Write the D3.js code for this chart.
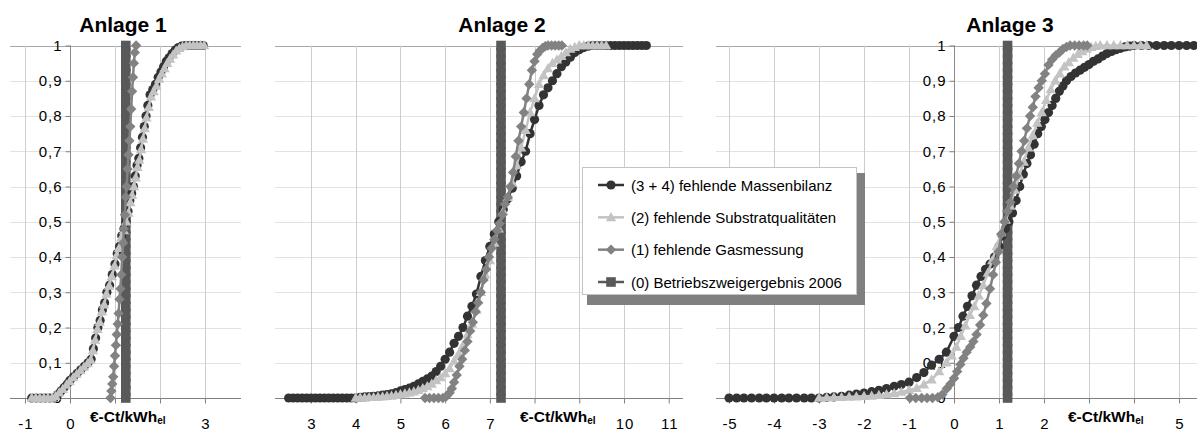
<!DOCTYPE html>
<html><head><meta charset="utf-8">
<script src="https://cdn.jsdelivr.net/npm/d3@7"></script>
<style>body{margin:0;background:#fff}svg{display:block;font-family:"Liberation Sans",Arial,Helvetica,sans-serif}</style>
</head><body><svg id="c" width="1197" height="430"></svg>
<script>
// ---------------- DATA ----------------
const panelTitles = ["Anlage 1", "Anlage 2", "Anlage 3"];
const seriesNames = ["(3 + 4) fehlende Massenbilanz", "(2) fehlende Substratqualitäten", "(1) fehlende Gasmessung", "(0) Betriebszweigergebnis 2006"];
const axisTitle = "€-Ct/kWh";
const axisTitleSub = "el";
const yTickValues = [0, 0.1, 0.2, 0.3, 0.4, 0.5, 0.6, 0.7, 0.8, 0.9, 1];
const yTickLabels = ["0", "0,1", "0,2", "0,3", "0,4", "0,5", "0,6", "0,7", "0,8", "0,9", "1"];
const xTicks1 = [-1, 0, 1, 2, 3];
const xTickLabels1 = ["-1", "0", "", "", "3"];          // 1 and 2 hidden under the axis title
const xTicks2 = [3, 4, 5, 6, 7, 8, 9, 10, 11];
const xTickLabels2 = ["3", "4", "5", "6", "7", "", "", "10", "11"];
const xTicks3 = [-5, -4, -3, -2, -1, 0, 1, 2, 3, 4, 5];
const xTickLabels3 = ["-5", "-4", "-3", "-2", "-1", "0", "1", "2", "", "", "5"];

// (0) Betriebszweigergebnis 2006: one value per plant, drawn at these cumulative levels
const betrieb1 = 1.24, betrieb2 = 7.25, betrieb3 = 1.19;
const betriebLevels = [0, 0.02, 0.04, 0.06, 0.08, 0.1, 0.12, 0.14, 0.16, 0.18, 0.2, 0.22, 0.24, 0.26, 0.28, 0.3, 0.32, 0.34, 0.36, 0.38, 0.4, 0.42, 0.44, 0.46, 0.48, 0.5, 0.52, 0.54, 0.56, 0.58, 0.6, 0.62, 0.64, 0.66, 0.68, 0.7, 0.72, 0.74, 0.76, 0.78, 0.8, 0.82, 0.84, 0.86, 0.88, 0.9, 0.92, 0.94, 0.96, 0.98, 1];

// Anlage 1 cumulative distributions [x, p]
const massen1 = [[-0.85,0],[-0.75,0],[-0.65,0],[-0.55,0],[-0.45,0],[-0.35,0],[-0.27,0.01],[-0.2,0.02],[-0.13,0.03],[-0.06,0.04],[0.0,0.05],[0.08,0.06],[0.16,0.07],[0.24,0.08],[0.32,0.09],[0.4,0.1],[0.47,0.11],[0.52,0.14],[0.57,0.17],[0.62,0.2],[0.67,0.22],[0.72,0.25],[0.77,0.27],[0.82,0.3],[0.88,0.32],[0.94,0.35],[1.0,0.38],[1.05,0.41],[1.1,0.43],[1.15,0.46],[1.2,0.48],[1.25,0.5],[1.29,0.53],[1.33,0.56],[1.37,0.58],[1.41,0.6],[1.45,0.63],[1.49,0.66],[1.53,0.68],[1.57,0.71],[1.61,0.74],[1.65,0.77],[1.69,0.8],[1.73,0.83],[1.78,0.86],[1.84,0.875],[1.9,0.89],[1.96,0.91],[2.02,0.925],[2.08,0.94],[2.14,0.955],[2.2,0.965],[2.27,0.977],[2.34,0.987],[2.41,0.994],[2.48,0.998],[2.56,1],[2.64,1],[2.72,1],[2.8,1],[2.88,1],[2.96,1]];
const substrat1 = [[-0.85,0],[-0.76,0],[-0.67,0],[-0.58,0],[-0.49,0],[-0.4,0],[-0.32,0.005],[-0.24,0.015],[-0.16,0.025],[-0.08,0.037],[-0.01,0.047],[0.07,0.058],[0.15,0.068],[0.23,0.078],[0.31,0.088],[0.39,0.098],[0.46,0.108],[0.51,0.135],[0.56,0.165],[0.61,0.195],[0.66,0.215],[0.71,0.245],[0.76,0.265],[0.81,0.295],[0.87,0.318],[0.93,0.345],[0.99,0.375],[1.04,0.405],[1.09,0.425],[1.14,0.455],[1.2,0.475],[1.25,0.5],[1.3,0.525],[1.34,0.555],[1.38,0.575],[1.42,0.6],[1.46,0.625],[1.5,0.655],[1.54,0.675],[1.58,0.705],[1.62,0.735],[1.66,0.765],[1.7,0.795],[1.75,0.825],[1.8,0.855],[1.86,0.87],[1.92,0.885],[1.98,0.905],[2.04,0.92],[2.1,0.935],[2.16,0.95],[2.22,0.962],[2.29,0.974],[2.36,0.985],[2.43,0.992],[2.5,0.997],[2.58,1],[2.66,1],[2.74,1],[2.82,1],[2.9,1],[2.98,1]];
const gas1 = [[0.9,0],[0.92,0.02],[0.94,0.04],[0.96,0.06],[0.98,0.09],[1.0,0.12],[1.02,0.15],[1.04,0.18],[1.06,0.21],[1.08,0.24],[1.1,0.28],[1.12,0.31],[1.14,0.35],[1.16,0.4],[1.18,0.44],[1.2,0.48],[1.22,0.52],[1.24,0.57],[1.26,0.6],[1.28,0.65],[1.3,0.69],[1.32,0.73],[1.34,0.77],[1.36,0.82],[1.38,0.87],[1.4,0.91],[1.42,0.95],[1.44,0.98],[1.47,1.0]];

// Anlage 2
const massen2 = [[2.5,0],[2.6,0],[2.7,0],[2.8,0],[2.9,0],[3.0,0],[3.1,0],[3.2,0],[3.3,0],[3.4,0],[3.5,0],[3.6,0],[3.7,0],[3.8,0],[3.9,0],[4.0,0],[4.1,0.002],[4.2,0.003],[4.3,0.004],[4.4,0.005],[4.5,0.006],[4.6,0.008],[4.7,0.01],[4.8,0.012],[4.9,0.015],[5.0,0.02],[5.1,0.024],[5.2,0.028],[5.3,0.033],[5.4,0.04],[5.5,0.047],[5.6,0.054],[5.7,0.062],[5.8,0.075],[5.9,0.09],[6.0,0.11],[6.1,0.13],[6.2,0.155],[6.3,0.175],[6.4,0.2],[6.5,0.232],[6.6,0.26],[6.7,0.295],[6.8,0.345],[6.9,0.39],[7.0,0.43],[7.1,0.465],[7.2,0.5],[7.3,0.535],[7.4,0.565],[7.5,0.595],[7.6,0.63],[7.7,0.67],[7.8,0.7],[7.9,0.75],[8.0,0.79],[8.1,0.83],[8.2,0.86],[8.3,0.88],[8.4,0.9],[8.5,0.92],[8.6,0.94],[8.7,0.953],[8.8,0.967],[8.9,0.98],[9.0,0.988],[9.1,0.994],[9.2,0.998],[9.3,1],[9.4,1],[9.5,1],[9.6,1],[9.7,1],[9.8,1],[9.9,1],[10.0,1],[10.1,1],[10.2,1],[10.3,1],[10.4,1],[10.5,1]];
const substrat2 = [[4.0,0],[4.1,0.001],[4.2,0.001],[4.3,0.002],[4.4,0.002],[4.5,0.003],[4.6,0.004],[4.7,0.005],[4.8,0.006],[4.9,0.008],[5.0,0.01],[5.1,0.012],[5.2,0.015],[5.3,0.018],[5.4,0.022],[5.5,0.027],[5.6,0.033],[5.7,0.04],[5.8,0.05],[5.9,0.058],[6.0,0.07],[6.1,0.084],[6.2,0.105],[6.3,0.125],[6.4,0.15],[6.5,0.18],[6.6,0.21],[6.7,0.25],[6.8,0.3],[6.9,0.35],[7.0,0.39],[7.1,0.44],[7.2,0.48],[7.3,0.53],[7.4,0.57],[7.5,0.61],[7.6,0.66],[7.7,0.71],[7.8,0.76],[7.9,0.81],[8.0,0.85],[8.1,0.89],[8.2,0.915],[8.3,0.935],[8.4,0.95],[8.5,0.96],[8.6,0.97],[8.7,0.98],[8.8,0.99],[8.9,0.995],[9.0,1],[9.1,1],[9.2,1],[9.3,1],[9.4,1],[9.5,1],[9.6,1]];
const gas2 = [[5.55,0],[5.65,0],[5.75,0],[5.85,0],[5.95,0],[6.03,0.005],[6.1,0.015],[6.15,0.027],[6.2,0.045],[6.26,0.065],[6.32,0.09],[6.38,0.11],[6.44,0.135],[6.5,0.16],[6.56,0.19],[6.62,0.215],[6.68,0.245],[6.74,0.27],[6.8,0.3],[6.86,0.335],[6.92,0.365],[6.98,0.4],[7.04,0.425],[7.1,0.45],[7.16,0.475],[7.22,0.495],[7.28,0.52],[7.34,0.55],[7.4,0.57],[7.46,0.6],[7.52,0.64],[7.58,0.685],[7.64,0.73],[7.7,0.77],[7.76,0.81],[7.82,0.85],[7.88,0.89],[7.94,0.93],[8.0,0.955],[8.06,0.975],[8.12,0.985],[8.18,0.993],[8.24,0.998],[8.3,1],[8.38,1],[8.46,1],[8.54,1],[8.61,1]];

// Anlage 3
const massen3 = [[-5.0,0],[-4.83,0],[-4.67,0],[-4.5,0],[-4.33,0],[-4.17,0],[-4.0,0],[-3.83,0],[-3.67,0],[-3.5,0],[-3.33,0],[-3.17,0],[-3.0,0],[-2.83,0.002],[-2.67,0.003],[-2.5,0.005],[-2.33,0.008],[-2.17,0.011],[-2.0,0.014],[-1.83,0.018],[-1.67,0.022],[-1.5,0.027],[-1.33,0.033],[-1.17,0.038],[-1.0,0.045],[-0.83,0.058],[-0.67,0.072],[-0.5,0.093],[-0.33,0.11],[-0.17,0.13],[0.0,0.175],[0.1,0.2],[0.2,0.232],[0.3,0.26],[0.4,0.29],[0.5,0.32],[0.6,0.345],[0.7,0.365],[0.8,0.38],[0.9,0.4],[1.0,0.43],[1.07,0.46],[1.14,0.48],[1.22,0.5],[1.3,0.525],[1.38,0.56],[1.46,0.6],[1.54,0.635],[1.62,0.665],[1.7,0.69],[1.78,0.72],[1.86,0.75],[1.94,0.77],[2.02,0.79],[2.1,0.81],[2.18,0.83],[2.26,0.85],[2.34,0.87],[2.42,0.885],[2.5,0.9],[2.6,0.912],[2.7,0.922],[2.8,0.93],[2.9,0.938],[3.0,0.946],[3.1,0.955],[3.2,0.962],[3.3,0.97],[3.4,0.977],[3.5,0.983],[3.6,0.988],[3.7,0.992],[3.8,0.996],[3.9,0.998],[4.0,1],[4.17,1],[4.33,1],[4.5,1],[4.67,1],[4.83,1],[5.0,1],[5.17,1],[5.33,1]];
const substrat3 = [[-3.0,0],[-2.83,0.001],[-2.67,0.002],[-2.5,0.002],[-2.33,0.003],[-2.17,0.004],[-2.0,0.005],[-1.83,0.006],[-1.67,0.008],[-1.5,0.01],[-1.33,0.013],[-1.17,0.017],[-1.0,0.022],[-0.83,0.028],[-0.67,0.038],[-0.5,0.052],[-0.33,0.075],[-0.17,0.1],[-0.05,0.12],[0.05,0.145],[0.15,0.175],[0.25,0.205],[0.35,0.235],[0.45,0.26],[0.55,0.29],[0.65,0.32],[0.75,0.355],[0.85,0.39],[0.95,0.43],[1.05,0.47],[1.15,0.505],[1.25,0.545],[1.35,0.59],[1.45,0.63],[1.55,0.67],[1.65,0.71],[1.75,0.745],[1.85,0.78],[1.95,0.81],[2.05,0.845],[2.15,0.875],[2.25,0.9],[2.35,0.92],[2.45,0.94],[2.55,0.952],[2.65,0.965],[2.75,0.975],[2.85,0.983],[2.95,0.99],[3.05,0.995],[3.15,0.998],[3.25,1],[3.4,1],[3.55,1],[3.7,1],[3.85,1],[4.0,1],[4.15,1],[4.28,1]];
const gas3 = [[-0.98,0],[-0.85,0],[-0.72,0],[-0.6,0],[-0.48,0],[-0.36,0.002],[-0.26,0.01],[-0.16,0.027],[-0.08,0.04],[0.0,0.056],[0.07,0.075],[0.14,0.095],[0.21,0.113],[0.28,0.13],[0.36,0.145],[0.43,0.16],[0.5,0.18],[0.58,0.207],[0.65,0.235],[0.72,0.268],[0.8,0.31],[0.87,0.35],[0.93,0.385],[0.99,0.415],[1.05,0.465],[1.12,0.5],[1.19,0.53],[1.25,0.555],[1.32,0.6],[1.38,0.63],[1.44,0.665],[1.5,0.7],[1.56,0.73],[1.62,0.765],[1.69,0.8],[1.75,0.825],[1.81,0.855],[1.88,0.88],[1.95,0.9],[2.02,0.92],[2.1,0.945],[2.18,0.96],[2.26,0.972],[2.34,0.98],[2.42,0.99],[2.5,0.996],[2.58,1],[2.68,1],[2.78,1],[2.88,1],[2.96,1]];

// ---------------- LAYOUT / STYLE ----------------
const colors = ["#333333", "#c3c3c3", "#828282", "#595959"];
const markerTypes = ["circle", "triangle", "diamond", "square"];
const panels = [
  {title: panelTitles[0], range: [10, 241], domain: [-1.333, 3.8], ticks: xTicks1, labels: xTickLabels1, yAxis: true, titleX: 123, axTitleX: 90,
   series: [massen1, substrat1, gas1], betrieb: betrieb1},
  {title: panelTitles[1], range: [275, 683], domain: [2.195, 11.32], ticks: xTicks2, labels: xTickLabels2, yAxis: false, titleX: 502, axTitleX: 520,
   series: [massen2, substrat2, gas2], betrieb: betrieb2},
  {title: panelTitles[2], range: [716, 1197], domain: [-5.29, 5.40], ticks: xTicks3, labels: xTickLabels3, yAxis: true, titleX: 1010, axTitleX: 1068,
   series: [massen3, substrat3, gas3], betrieb: betrieb3}
];
const yTop = 45.5, yBot = 398;

function markerPath(type) {
  switch (type) {
    case "circle": return "M4.6,0A4.6,4.6 0 1,1 -4.6,0A4.6,4.6 0 1,1 4.6,0Z";
    case "triangle": return "M0,-5.4L5.2,3.8L-5.2,3.8Z";
    case "diamond": return "M0,-5.2L5.2,0L0,5.2L-5.2,0Z";
    case "square": return "M-4.8,-4.8H4.8V4.8H-4.8Z";
  }
}

const svg = d3.select("#c");
const y = d3.scaleLinear().domain([0, 1]).range([yBot, yTop]);

panels.forEach(p => {
  const x = d3.scaleLinear().domain(p.domain).range(p.range);
  const g = svg.append("g");
  // horizontal gridlines
  g.selectAll("line.hg").data(yTickValues).enter().append("line")
    .attr("x1", p.range[0]).attr("x2", p.range[1])
    .attr("y1", d => Math.round(y(d)) + 0.5).attr("y2", d => Math.round(y(d)) + 0.5)
    .attr("stroke", d => d === 1 ? "#a8a8a8" : (d === 0 ? "none" : "#e2e2e2")).attr("stroke-width", 1);
  // vertical gridlines
  g.selectAll("line.vg").data(p.ticks).enter().append("line")
    .attr("x1", d => Math.round(x(d)) + 0.5).attr("x2", d => Math.round(x(d)) + 0.5)
    .attr("y1", yTop).attr("y2", yBot)
    .attr("stroke", "#cdcdcd").attr("stroke-width", 1);
  // x axis
  const xAxis = d3.axisBottom(x).tickValues(p.ticks).tickSize(5).tickPadding(7)
    .tickFormat((d, i) => p.labels[i]);
  const xa = g.append("g").attr("transform", `translate(0,${Math.round(yBot) + 0.5})`).call(xAxis);
  xa.select(".domain").attr("stroke", "#808080").attr("d", `M${p.range[0]},0H${p.range[1]}`);
  xa.selectAll(".tick line").attr("stroke", "#808080");
  xa.selectAll(".tick text").attr("font-size", 15).attr("letter-spacing", 1).attr("fill", "#000")
    .attr("font-family", null).attr("dy", null).attr("y", 30).attr("x", 0.5);
  xa.selectAll(".tick text").filter(function () { return this.textContent === ""; }).remove();
  // y axis
  if (p.yAxis) {
    const yAxis = d3.axisLeft(y).tickValues(yTickValues).tickSize(5).tickPadding(3)
      .tickFormat((d, i) => yTickLabels[i]);
    const ya = g.append("g").attr("transform", `translate(${Math.round(x(0)) + 0.5},0)`).call(yAxis);
    ya.select(".domain").attr("stroke", "#8a8a8a").attr("d", `M0,${yTop}V${yBot}`);
    ya.selectAll(".tick line").attr("stroke", "#808080");
    ya.selectAll(".tick text").attr("font-size", 15).attr("letter-spacing", 1).attr("fill", "#000").attr("font-family", null);
  }
  // axis title
  const tt = g.append("text").attr("x", p.axTitleX).attr("y", 422).attr("font-size", 15.5).attr("font-weight", "bold");
  tt.append("tspan").text(axisTitle);
  tt.append("tspan").attr("font-size", 10).attr("dy", 2).text(axisTitleSub);
  // panel title
  g.append("text").attr("x", p.titleX).attr("y", 32).attr("text-anchor", "middle")
    .attr("font-size", 21).attr("font-weight", "bold").text(p.title);

  // series: (0) first, then (3+4), (2), (1)
  const line = d3.line().x(d => x(d[0])).y(d => y(d[1]));
  const betriebData = betriebLevels.map(v => [p.betrieb, v]);
  const order = [3, 0, 1, 2];
  order.forEach(si => {
    const data = si === 3 ? betriebData : p.series[si];
    const sg = g.append("g");
    sg.append("path").attr("d", line(data)).attr("fill", "none").attr("stroke", colors[si]).attr("stroke-width", 2.5);
    sg.selectAll("path.m").data(data).enter().append("path")
      .attr("transform", d => `translate(${x(d[0])},${y(d[1])})`)
      .attr("d", markerPath(markerTypes[si])).attr("fill", colors[si]);
  });
});

// legend
const lg = svg.append("g");
lg.append("rect").attr("x", 587).attr("y", 173).attr("width", 278).attr("height", 132).attr("fill", "#808080");
lg.append("rect").attr("x", 582.5).attr("y", 167.5).attr("width", 274).attr("height", 127).attr("fill", "#fff").attr("stroke", "#c4c4c4");
const rowY = d3.scalePoint().domain(seriesNames).range([185, 282]);
seriesNames.forEach((name, i) => {
  const cy = rowY(name);
  lg.append("line").attr("x1", 598).attr("x2", 624).attr("y1", cy).attr("y2", cy).attr("stroke", colors[i]).attr("stroke-width", 2.5);
  lg.append("path").attr("transform", `translate(611,${cy})`).attr("d", markerPath(markerTypes[i])).attr("fill", colors[i]);
  lg.append("text").attr("x", 631).attr("y", cy + 5.5).attr("font-size", 15).attr("fill", "#000").text(name);
});
</script>
</body></html>
